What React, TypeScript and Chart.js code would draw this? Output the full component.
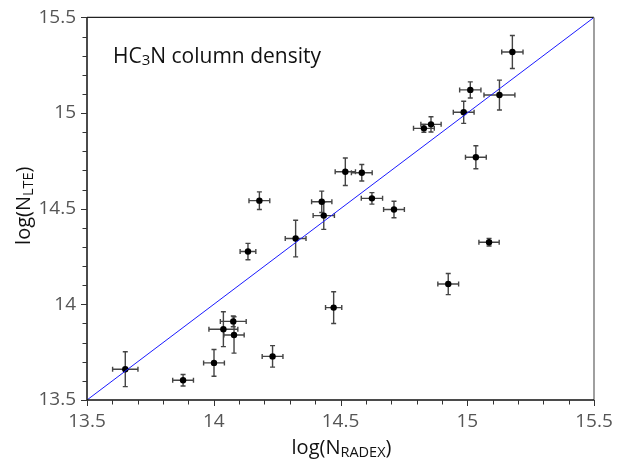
import React, { useEffect, useRef } from "react";
import { Chart, registerables } from "chart.js";

Chart.register(...registerables);

const xVals = [13.651, 13.879, 14.001, 14.038, 14.077, 14.080, 14.232, 14.135, 14.180, 14.323, 14.426, 14.434, 14.519, 14.584, 14.624, 14.711, 14.473, 14.829, 14.857, 14.925, 14.986, 15.012, 15.034, 15.086, 15.127, 15.178];
const yVals = [13.661, 13.603, 13.694, 13.870, 13.911, 13.840, 13.728, 14.276, 14.542, 14.344, 14.536, 14.464, 14.693, 14.688, 14.554, 14.496, 13.983, 14.920, 14.941, 14.106, 15.004, 15.121, 14.769, 14.325, 15.094, 15.319];
const xErr = [0.050, 0.041, 0.041, 0.057, 0.051, 0.040, 0.041, 0.031, 0.041, 0.041, 0.040, 0.042, 0.040, 0.041, 0.042, 0.041, 0.032, 0.041, 0.040, 0.041, 0.041, 0.042, 0.041, 0.040, 0.061, 0.042];
const yErr = [0.091, 0.030, 0.070, 0.091, 0.028, 0.095, 0.056, 0.043, 0.046, 0.096, 0.056, 0.072, 0.072, 0.043, 0.030, 0.043, 0.083, 0.020, 0.040, 0.055, 0.058, 0.042, 0.060, 0.020, 0.078, 0.086];
const axisMin = 13.5;
const axisMax = 15.5;
const identityLine = [13.5, 15.5];

const FONT = "'Open Sans', 'DejaVu Sans', sans-serif";

type Part = { t: string; sub?: boolean };

function drawRich(ctx: CanvasRenderingContext2D, parts: Part[], x: number, y: number, size: number, subSize: number, subDrop: number, align: "left" | "center") {
  let total = 0;
  for (const p of parts) {
    ctx.font = `${p.sub ? subSize : size}px ${FONT}`;
    total += ctx.measureText(p.t).width;
  }
  let cx = align === "center" ? x - total / 2 : x;
  ctx.textAlign = "left";
  ctx.textBaseline = "alphabetic";
  for (const p of parts) {
    ctx.font = `${p.sub ? subSize : size}px ${FONT}`;
    ctx.fillText(p.t, cx, y + (p.sub ? subDrop : 0));
    cx += ctx.measureText(p.t).width;
  }
}

const decorPlugin = {
  id: "decor",
  beforeDatasetsDraw(chart: any) {
    const ctx = chart.ctx as CanvasRenderingContext2D;
    const xs = chart.scales.x;
    const ys = chart.scales.y;
    ctx.save();
    ctx.strokeStyle = "#444";
    ctx.lineWidth = 1.4;
    const cap = 2.5;
    for (let i = 0; i < xVals.length; i++) {
      const px = xs.getPixelForValue(xVals[i]);
      const py = ys.getPixelForValue(yVals[i]);
      const x1 = xs.getPixelForValue(xVals[i] - xErr[i]);
      const x2 = xs.getPixelForValue(xVals[i] + xErr[i]);
      const y1 = ys.getPixelForValue(yVals[i] - yErr[i]);
      const y2 = ys.getPixelForValue(yVals[i] + yErr[i]);
      ctx.beginPath();
      ctx.moveTo(x1, py); ctx.lineTo(x2, py);
      ctx.moveTo(x1, py - cap); ctx.lineTo(x1, py + cap);
      ctx.moveTo(x2, py - cap); ctx.lineTo(x2, py + cap);
      ctx.moveTo(px, y1); ctx.lineTo(px, y2);
      ctx.moveTo(px - cap, y1); ctx.lineTo(px + cap, y1);
      ctx.moveTo(px - cap, y2); ctx.lineTo(px + cap, y2);
      ctx.stroke();
    }
    ctx.restore();
  },
  afterDraw(chart: any) {
    const ctx = chart.ctx as CanvasRenderingContext2D;
    const a = chart.chartArea;
    const xs = chart.scales.x;
    const ys = chart.scales.y;
    ctx.save();
    // frame
    ctx.strokeStyle = "#222";
    ctx.lineWidth = 1.2;
    ctx.beginPath();
    ctx.moveTo(a.left, a.top); ctx.lineTo(a.right, a.top);
    ctx.stroke();
    ctx.strokeStyle = "#888";
    ctx.lineWidth = 1.6;
    ctx.beginPath();
    ctx.moveTo(a.right, a.top); ctx.lineTo(a.right, a.bottom);
    ctx.stroke();
    ctx.strokeStyle = "#111";
    ctx.lineWidth = 1.5;
    ctx.beginPath();
    ctx.moveTo(a.left, a.top); ctx.lineTo(a.left, a.bottom + 0.5);
    ctx.moveTo(a.left - 0.5, a.bottom); ctx.lineTo(a.right, a.bottom);
    ctx.stroke();
    // ticks
    ctx.strokeStyle = "#333";
    ctx.lineWidth = 1;
    ctx.beginPath();
    for (let k = 0; k <= 20; k++) {
      const v = axisMin + k * 0.1;
      const major = k % 5 === 0;
      const len = major ? 6 : 4.5;
      const px = Math.round(xs.getPixelForValue(v)) + 0.5;
      ctx.moveTo(px, a.bottom); ctx.lineTo(px, a.bottom + len);
      const py = Math.round(ys.getPixelForValue(v)) + 0.5;
      ctx.moveTo(a.left, py); ctx.lineTo(a.left - len, py);
    }
    ctx.stroke();
    // in-plot label
    ctx.fillStyle = "#111";
    drawRich(ctx, [{ t: "HC" }, { t: "3", sub: true }, { t: "N column density" }], a.left + 26, 63, 21, 15, 2, "left");
    // axis titles
    ctx.fillStyle = "#111";
    drawRich(ctx, [{ t: "log(N" }, { t: "RADEX", sub: true }, { t: ")" }], (a.left + a.right) / 2 + 1, 454, 20, 14.5, 3, "center");
    ctx.translate(30, (a.top + a.bottom) / 2 - 3);
    ctx.rotate(-Math.PI / 2);
    drawRich(ctx, [{ t: "log(N" }, { t: "LTE", sub: true }, { t: ")" }], 0, 0, 20, 14.5, 3, "center");
    ctx.restore();
  },
};

function fmt(v: number) {
  const r = Math.round(v * 10) / 10;
  if (Math.abs(r * 2 - Math.round(r * 2)) > 1e-6) return "";
  return String(r);
}

export default function App() {
  const ref = useRef<HTMLCanvasElement>(null);
  useEffect(() => {
    if (!ref.current) return;
    const points = xVals.map((x, i) => ({ x, y: yVals[i] }));
    const chart = new Chart(ref.current, {
      type: "scatter",
      data: {
        datasets: [
          {
            type: "line",
            data: [
              { x: identityLine[0], y: identityLine[0] },
              { x: identityLine[1], y: identityLine[1] },
            ],
            borderColor: "#1a1aff",
            borderWidth: 1,
            pointRadius: 0,
            fill: false,
          } as any,
          {
            data: points,
            backgroundColor: "#000",
            borderColor: "#000",
            pointRadius: 3.2,
            pointBorderWidth: 0,
          },
        ],
      },
      options: {
        animation: false,
        responsive: false,
        devicePixelRatio: 1,
        layout: { padding: { left: 0, right: 30, top: 16, bottom: 0 } },
        plugins: { legend: { display: false }, tooltip: { enabled: false }, title: { display: false } },
        scales: {
          x: {
            type: "linear",
            min: axisMin,
            max: axisMax,
            afterFit: (s: any) => { s.height = 61; },
            afterBuildTicks: (s: any) => {
              const t = [];
              for (let k = 0; k <= 20; k++) t.push({ value: Math.round((axisMin + k * 0.1) * 10) / 10 });
              s.ticks = t;
            },
            ticks: { callback: (v: any) => fmt(Number(v)), font: { family: FONT, size: 19 }, color: "#555", padding: 5, maxRotation: 0, autoSkip: false },
            grid: { display: false, drawTicks: true, tickLength: 5 },
            border: { display: false },
          },
          y: {
            type: "linear",
            min: axisMin,
            max: axisMax,
            afterFit: (s: any) => { s.width = 87; },
            afterBuildTicks: (s: any) => {
              const t = [];
              for (let k = 0; k <= 20; k++) t.push({ value: Math.round((axisMin + k * 0.1) * 10) / 10 });
              s.ticks = t;
            },
            ticks: { callback: (v: any) => fmt(Number(v)), font: { family: FONT, size: 19 }, color: "#555", padding: 6, autoSkip: false },
            grid: { display: false, drawTicks: true, tickLength: 5 },
            border: { display: false },
          },
        },
      },
      plugins: [decorPlugin],
    });
    return () => chart.destroy();
  }, []);
  return (
    <div style={{ position: "fixed", left: 0, top: 0, width: 624, height: 461, background: "#fff" }}>
      <canvas ref={ref} width={624} height={461} style={{ display: "block" }} />
    </div>
  );
}
